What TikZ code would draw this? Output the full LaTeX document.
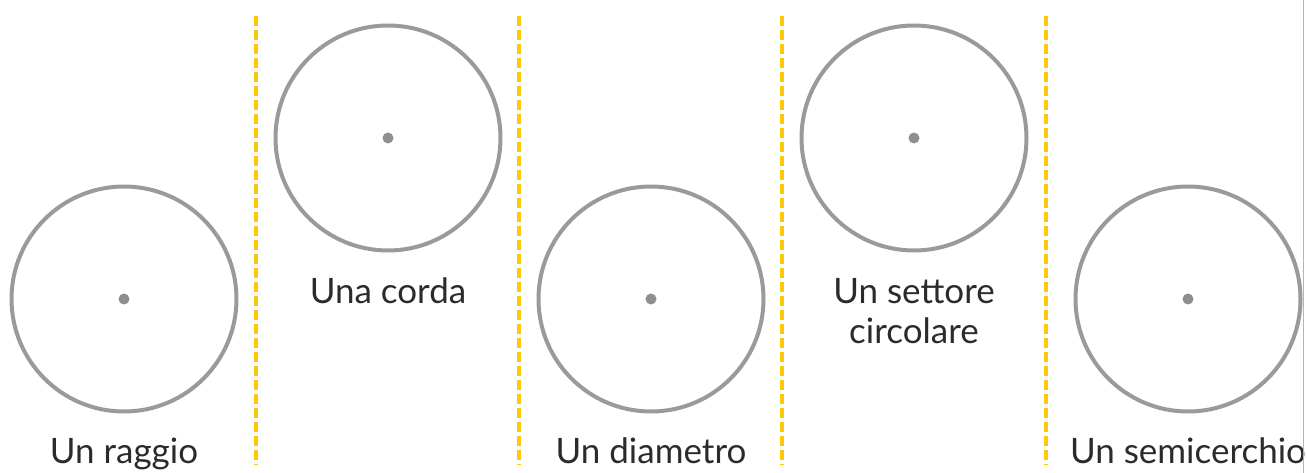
\documentclass[tikz,border=0pt]{standalone}
\usepackage{fontspec}
\setmainfont{Lato}
\usepackage{tikz}
\definecolor{circgray}{HTML}{9A9A9E}
\definecolor{dotgray}{HTML}{8E8E93}
\definecolor{sepyellow}{HTML}{FFC800}
\definecolor{textgray}{HTML}{2B2B2B}
\definecolor{edgegray}{HTML}{B4B4B4}

\begin{document}
\begin{tikzpicture}[x=1pt,y=-1pt,
		circ/.style={circle,draw=circgray,line width=4pt,minimum size=225pt,inner sep=0pt},
		ctr/.style={circle,fill=dotgray,minimum size=11pt,inner sep=0pt},
		sepline/.style={draw=sepyellow,line width=3.5pt,dash pattern=on 10pt off 4pt},
		lbl/.style={font=\fontsize{35}{40}\selectfont,text=textgray,anchor=base,align=center}]
		\useasboundingbox (0,0) rectangle (1307,473);

		% separators
		\foreach \x in {256,519,782,1046}
			\draw[sepline] (\x,16) -- (\x,465);

		\node[circ] (raggio) at (124,299) {};
		\node[circ] (corda) at (388,138) {};
		\node[circ] (diametro) at (651,299) {};
		\node[circ] (settore) at (914,138) {};
		\node[circ] (semi) at (1188,299) {};

		\foreach \c in {raggio,corda,diametro,settore,semi}
			\node[ctr] (\c-o) at (\c.center) {};

		\node[lbl] (raggio-t) at (124,463) {Un raggio};
		\node[lbl] (corda-t) at (388,303) {Una corda};
		\node[lbl] (diametro-t) at (651,463) {Un diametro};
		\node[lbl] (settore-t) at (914,343) {Un settore\\circolare};
		\node[lbl] (semi-t) at (1188,463) {Un semicerchio};

		\draw[edgegray,line width=1pt] (1303,0) -- (1303,473);
	\end{tikzpicture}
\end{document}
